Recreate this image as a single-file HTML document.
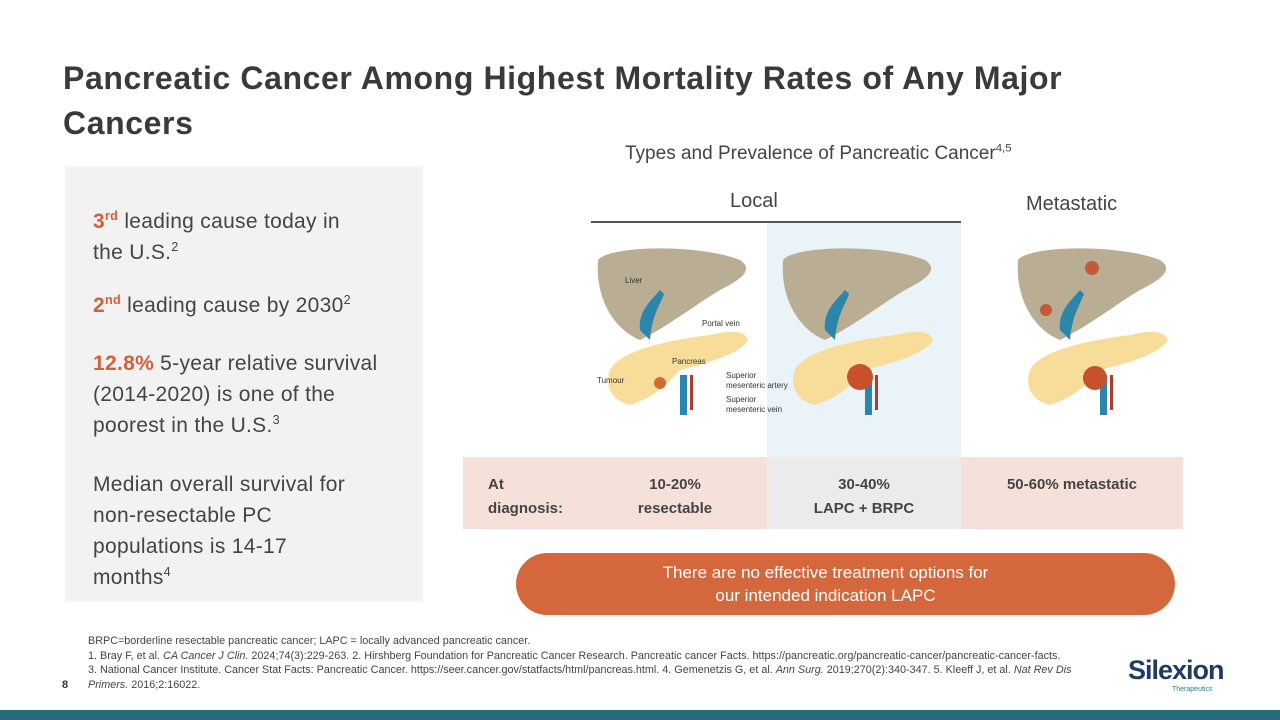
<!DOCTYPE html>
<html><head><meta charset="utf-8"><style>
body{margin:0;width:1280px;height:720px;position:relative;background:#fff;font-family:"Liberation Sans",sans-serif;overflow:hidden;color:#3b3b3b}
.a{position:absolute}
.o{color:#d2603a;font-weight:bold}
sup{font-size:60%;line-height:0}
.bl{font-size:21px;line-height:31px;color:#444;letter-spacing:0.3px}
</style></head><body>
<div class="a" style="left:63px;top:56px;width:1100px;font-size:32px;letter-spacing:0.6px;font-weight:bold;line-height:45px;color:#3a3a3a">Pancreatic Cancer Among Highest Mortality Rates of Any Major Cancers</div>

<div class="a" style="left:65px;top:166px;width:358px;height:436px;background:#f2f2f2"></div>
<div class="a bl" style="left:93px;top:206px;width:270px"><span class="o">3<sup>rd</sup></span> leading cause today in the U.S.<sup>2</sup></div>
<div class="a bl" style="left:93px;top:290px;width:320px"><span class="o">2<sup>nd</sup></span> leading cause by 2030<sup>2</sup></div>
<div class="a bl" style="left:93px;top:348px;width:312px"><span class="o">12.8%</span> 5-year relative survival (2014-2020) is one of the poorest in the U.S.<sup>3</sup></div>
<div class="a bl" style="left:93px;top:469px;width:270px">Median overall survival for non-resectable PC populations is 14-17 months<sup>4</sup></div>

<div class="a" style="left:625px;top:143px;font-size:19px;color:#444">Types and Prevalence of Pancreatic Cancer<sup>4,5</sup></div>
<div class="a" style="left:730px;top:190px;font-size:20px;color:#444">Local</div>
<div class="a" style="left:1026px;top:193px;font-size:20px;color:#444">Metastatic</div>
<div class="a" style="left:591px;top:221px;width:370px;height:2px;background:#555"></div>
<div class="a" style="left:767px;top:223px;width:194px;height:234px;background:#eaf4f8"></div>

<svg class="a" style="left:580px;top:220px" width="600" height="237">
<defs><g id="org">
<path d="M18,30 C30,15 120,14 160,30 C175,40 160,50 140,60 C115,75 90,95 60,110 C35,100 15,70 18,30Z" fill="#b9ad93"/>
<path d="M60,100 C58,80 72,70 80,60 L84,64 C80,75 72,85 70,110Z" fill="#2b86ab"/>
<path d="M30,140 C40,120 90,110 130,105 C150,100 165,100 168,110 C160,125 120,135 100,140 C90,150 80,165 50,175 C30,170 25,155 30,140Z" fill="#f8dd9a"/>
<rect x="100" y="145" width="7" height="40" fill="#2b86ab"/><rect x="110" y="145" width="3" height="35" fill="#b23a30"/>
</g></defs>
<use href="#org" x="0" y="10"/>
<circle cx="80" cy="163" r="6" fill="#d86a2e"/>
<text x="45" y="63" font-size="8" fill="#333">Liver</text>
<text x="122" y="106" font-size="8" fill="#333">Portal vein</text>
<text x="92" y="144" font-size="8" fill="#333">Pancreas</text>
<text x="17" y="163" font-size="8" fill="#333">Tumour</text>
<text x="146" y="158" font-size="8" fill="#333">Superior</text>
<text x="146" y="168" font-size="8" fill="#333">mesenteric artery</text>
<text x="146" y="182" font-size="8" fill="#333">Superior</text>
<text x="146" y="192" font-size="8" fill="#333">mesenteric vein</text>
<use href="#org" x="185" y="10"/>
<circle cx="280" cy="157" r="13" fill="#c8502a"/>
<use href="#org" x="420" y="10"/>
<circle cx="515" cy="158" r="12" fill="#c8502a"/><circle cx="512" cy="48" r="7" fill="#c05a3a"/><circle cx="466" cy="90" r="6" fill="#c05a3a"/>
</svg>

<div class="a" style="left:463px;top:457px;width:720px;height:72px;background:#f6e0da"></div>
<div class="a" style="left:767px;top:457px;width:194px;height:72px;background:#ebebeb"></div>
<div class="a" style="left:488px;top:473px;font-size:15px;font-weight:bold;line-height:24px;color:#444">At<br>diagnosis:</div>
<div class="a" style="left:600px;top:473px;width:150px;text-align:center;font-size:15px;font-weight:bold;line-height:24px;color:#444">10-20%<br>resectable</div>
<div class="a" style="left:767px;top:473px;width:194px;text-align:center;font-size:15px;font-weight:bold;line-height:24px;color:#444">30-40%<br>LAPC + BRPC</div>
<div class="a" style="left:961px;top:473px;width:222px;text-align:center;font-size:15px;font-weight:bold;line-height:24px;color:#444">50-60% metastatic</div>

<div class="a" style="left:516px;top:553px;width:659px;height:62px;border-radius:31px;background:#d4673b;color:#fff;font-size:17px;line-height:23px;text-align:center;display:flex;align-items:center;justify-content:center"><div style="margin-left:-40px">There are no effective treatment options for<br>our intended indication LAPC</div></div>

<div class="a" style="left:88px;top:634px;width:1010px;font-size:10.8px;line-height:14.5px;color:#444">BRPC=borderline resectable pancreatic cancer; LAPC = locally advanced pancreatic cancer.<br>1. Bray F, et al. <i>CA Cancer J Clin.</i> 2024;74(3):229-263. 2. Hirshberg Foundation for Pancreatic Cancer Research. Pancreatic cancer Facts. https://pancreatic.org/pancreatic-cancer/pancreatic-cancer-facts.<br>3. National Cancer Institute. Cancer Stat Facts: Pancreatic Cancer. https://seer.cancer.gov/statfacts/html/pancreas.html. 4. Gemenetzis G, et al. <i>Ann Surg.</i> 2019;270(2):340-347. 5. Kleeff J, et al. <i>Nat Rev Dis Primers.</i> 2016;2:16022.</div>
<div class="a" style="left:62px;top:679px;font-size:11px;font-weight:bold;color:#333">8</div>
<div class="a" style="left:1128px;top:655px;font-size:27px;font-weight:bold;color:#1f3c63;letter-spacing:-1px">Silexion</div>
<div class="a" style="left:1172px;top:686px;font-size:7px;color:#2a7b8f">Therapeutics</div>
<div class="a" style="left:0;top:710px;width:1280px;height:10px;background:#266b7a"></div>
</body></html>
